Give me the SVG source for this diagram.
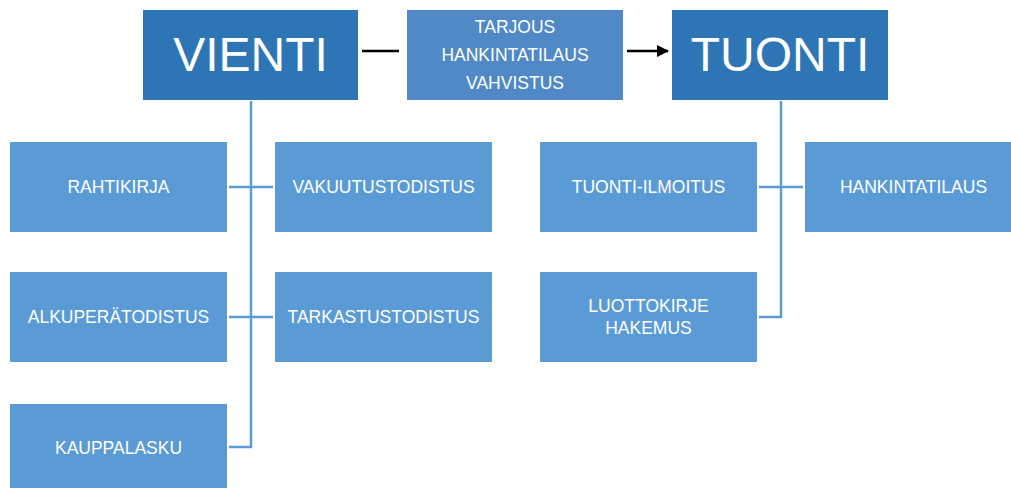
<svg xmlns="http://www.w3.org/2000/svg" width="1011" height="488" viewBox="0 0 1011 488">
<style>
.main{fill:#2E75B6}
.mid{fill:#5089C5}
.sub{fill:#5B9BD5}
text{fill:#fff;font-family:"Liberation Sans",Arial,sans-serif;text-anchor:middle;dominant-baseline:central}
.big{font-size:48px}
.s{font-size:17.5px}
.conn{stroke:#5B9BD5;stroke-width:2.5;fill:none}
</style>
<defs>
<marker id="ah" markerWidth="12" markerHeight="12" refX="11" refY="6" orient="auto" markerUnits="userSpaceOnUse">
<path d="M0,0 L12,6 L0,12 z" fill="#000"/>
</marker>
</defs>
<g id="connectors">
<line x1="362" y1="51" x2="399" y2="51" stroke="#000" stroke-width="2.5"/>
<line x1="627" y1="51" x2="668" y2="51" stroke="#000" stroke-width="2.5" marker-end="url(#ah)"/>
<path class="conn" d="M251,101 V447 H229"/>
<path class="conn" d="M229,187 H273"/>
<path class="conn" d="M229,317 H273"/>
<path class="conn" d="M781,101 V317 H759"/>
<path class="conn" d="M759,187 H803"/>
</g>
<g id="vienti"><rect class="main" x="143" y="10" width="215" height="90"/><text class="big" x="250.5" y="54">VIENTI</text></g>
<g id="middle"><rect class="mid" x="407" y="10" width="216" height="90"/>
<text class="s" x="515" y="27">TARJOUS</text>
<text class="s" x="515" y="55">HANKINTATILAUS</text>
<text class="s" x="515" y="83">VAHVISTUS</text></g>
<g id="tuonti"><rect class="main" x="672" y="10" width="216" height="90"/><text class="big" x="780" y="54">TUONTI</text></g>
<g id="rahtikirja"><rect class="sub" x="10" y="142" width="217" height="90"/><text class="s" x="118.5" y="187">RAHTIKIRJA</text></g>
<g id="vakuutustodistus"><rect class="sub" x="275" y="142" width="217" height="90"/><text class="s" x="383.5" y="187">VAKUUTUSTODISTUS</text></g>
<g id="alkuperatodistus"><rect class="sub" x="10" y="272" width="217" height="90"/><text class="s" x="118.5" y="317">ALKUPERÄTODISTUS</text></g>
<g id="tarkastustodistus"><rect class="sub" x="275" y="272" width="217" height="90"/><text class="s" x="383.5" y="317">TARKASTUSTODISTUS</text></g>
<g id="kauppalasku"><rect class="sub" x="10" y="404" width="217" height="90"/><text class="s" x="118.5" y="448">KAUPPALASKU</text></g>
<g id="tuonti-ilmoitus"><rect class="sub" x="540" y="142" width="217" height="90"/><text class="s" x="648.5" y="187">TUONTI-ILMOITUS</text></g>
<g id="hankintatilaus"><rect class="sub" x="805" y="142" width="217" height="90"/><text class="s" x="913.5" y="187">HANKINTATILAUS</text></g>
<g id="luottokirje"><rect class="sub" x="540" y="272" width="217" height="90"/><text class="s" x="648.5" y="306">LUOTTOKIRJE</text><text class="s" x="648.5" y="328">HAKEMUS</text></g>
</svg>
